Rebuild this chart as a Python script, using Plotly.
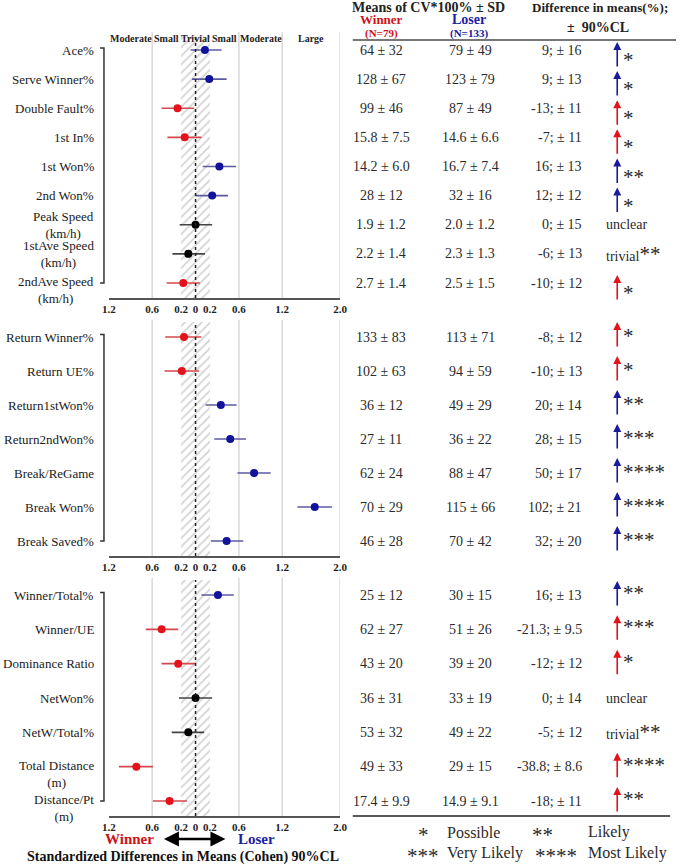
import plotly.graph_objects as go

W, H = 683, 867

# ---------------- data ----------------
SERVE_LABELS = ["Ace%", "Serve Winner%", "Double Fault%", "1st In%", "1st Won%", "2nd Won%",
                "Peak Speed<br>(km/h)", "1stAve Speed<br>(km/h)", "2ndAve Speed<br>(km/h)"]
SERVE_ES = [0.13, 0.19, -0.25, -0.15, 0.33, 0.23, 0.00, -0.10, -0.17]
SERVE_LO = [-0.07, -0.05, -0.47, -0.39, 0.10, 0.00, -0.22, -0.32, -0.40]
SERVE_HI = [0.36, 0.43, -0.02, 0.08, 0.56, 0.45, 0.23, 0.13, 0.06]
SERVE_DIR = ["L", "L", "W", "W", "L", "L", "U", "U", "W"]
SERVE_WIN = ["64 ± 32", "128 ± 67", "99 ± 46", "15.8 ± 7.5", "14.2 ± 6.0", "28 ± 12",
             "1.9 ± 1.2", "2.2 ± 1.4", "2.7 ± 1.4"]
SERVE_LOS = ["79 ± 49", "123 ± 79", "87 ± 49", "14.6 ± 6.6", "16.7 ± 7.4", "32 ± 16",
             "2.0 ± 1.2", "2.3 ± 1.3", "2.5 ± 1.5"]
SERVE_DIFF = ["9; ± 16", "9; ± 13", "-13; ± 11", "-7; ± 11", "16; ± 13", "12; ± 12",
              "0; ± 15", "-6; ± 13", "-10; ± 12"]
SERVE_INF = ["*", "*", "*", "*", "**", "*", "unclear", "trivial**", "*"]

RETURN_LABELS = ["Return Winner%", "Return UE%", "Return1stWon%", "Return2ndWon%",
                 "Break/ReGame", "Break Won%", "Break Saved%"]
RETURN_ES = [-0.16, -0.19, 0.35, 0.48, 0.81, 1.65, 0.43]
RETURN_LO = [-0.42, -0.43, 0.14, 0.26, 0.58, 1.41, 0.21]
RETURN_HI = [0.08, 0.05, 0.57, 0.70, 1.04, 1.89, 0.66]
RETURN_DIR = ["W", "W", "L", "L", "L", "L", "L"]
RETURN_WIN = ["133 ± 83", "102 ± 63", "36 ± 12", "27 ± 11", "62 ± 24", "70 ± 29", "46 ± 28"]
RETURN_LOS = ["113 ± 71", "94 ± 59", "49 ± 29", "36 ± 22", "88 ± 47", "115 ± 66", "70 ± 42"]
RETURN_DIFF = ["-8; ± 12", "-10; ± 13", "20; ± 14", "28; ± 15", "50; ± 17", "102; ± 21", "32; ± 20"]
RETURN_INF = ["*", "*", "**", "***", "****", "****", "***"]

OTHER_LABELS = ["Winner/Total%", "Winner/UE", "Dominance Ratio", "NetWon%", "NetW/Total%",
                "Total Distance<br>(m)", "Distance/Pt<br>(m)"]
OTHER_ES = [0.31, -0.47, -0.24, 0.00, -0.10, -0.82, -0.36]
OTHER_LO = [0.08, -0.69, -0.47, -0.23, -0.33, -1.06, -0.59]
OTHER_HI = [0.53, -0.24, 0.00, 0.23, 0.12, -0.59, -0.12]
OTHER_DIR = ["L", "W", "W", "U", "U", "W", "W"]
OTHER_WIN = ["25 ± 12", "62 ± 27", "43 ± 20", "36 ± 31", "53 ± 32", "49 ± 33", "17.4 ± 9.9"]
OTHER_LOS = ["30 ± 15", "51 ± 26", "39 ± 20", "33 ± 19", "49 ± 22", "29 ± 15", "14.9 ± 9.1"]
OTHER_DIFF = ["16; ± 13", "-21.3; ± 9.5", "-12; ± 12", "0; ± 14", "-5; ± 12", "-38.8; ± 8.6", "-18; ± 11"]
OTHER_INF = ["**", "***", "*", "unclear", "trivial**", "****", "**"]

THRESHOLDS = [-1.2, -0.6, -0.2, 0.2, 0.6, 1.2, 2.0]
ZONE_NAMES = ["Moderate", "Small", "Trivial", "Small", "Moderate", "Large"]
TICK_VALS = [-1.2, -0.6, -0.2, 0, 0.2, 0.6, 1.2, 2.0]
TICK_TEXT = ["1.2", "0.6", "0.2", "0", "0.2", "0.6", "1.2", "2.0"]
GRID_VALS = [-0.6, 0.6, 1.2, 2.0]
TRIVIAL = 0.2

LEGEND_SYMBOLS = ["*", "**", "***", "****"]
LEGEND_TEXT = ["Possible", "Likely", "Very Likely", "Most Likely"]

# ---------------- styling ----------------
SERIF = "Liberation Serif, Times New Roman, serif"
MARK = {"W": "#e3121b", "L": "#12129c", "U": "#000000"}
LINE = {"W": "#d4474c", "L": "#5b5ba0", "U": "#444444"}
ARROW = {"W": "#e3121b", "L": "#1a1a9c"}
TXT = "#2a2a2a"
STAR_SIZE = 21


def px(x):
    return x / W


def py(y):
    return 1 - y / H


panels = [
    dict(labels=SERVE_LABELS, es=SERVE_ES, lo=SERVE_LO, hi=SERVE_HI, d=SERVE_DIR, win=SERVE_WIN,
         los=SERVE_LOS, diff=SERVE_DIFF, inf=SERVE_INF, top=35, bottom=298,
         tip=8, star=-10, drop={"2ndAve Speed<br>(km/h)"}),
    dict(labels=RETURN_LABELS, es=RETURN_ES, lo=RETURN_LO, hi=RETURN_HI, d=RETURN_DIR, win=RETURN_WIN,
         los=RETURN_LOS, diff=RETURN_DIFF, inf=RETURN_INF, top=322, bottom=556,
         tip=15, star=1, drop=set()),
    dict(labels=OTHER_LABELS, es=OTHER_ES, lo=OTHER_LO, hi=OTHER_HI, d=OTHER_DIR, win=OTHER_WIN,
         los=OTHER_LOS, diff=OTHER_DIFF, inf=OTHER_INF, top=580, bottom=816,
         tip=14, star=2, drop={"Total Distance<br>(m)", "Distance/Pt<br>(m)"}),
]

fig = go.Figure()
annotations = []
shapes = []
layout_axes = {}

for i, P in enumerate(panels):
    k = "" if i == 0 else str(i + 1)
    xa, ya = "x" + k, "y" + k
    n = len(P["labels"])
    spacing = (P["bottom"] - P["top"] - 30) / (n - 1)
    pad = 15 / spacing
    yrange = [n - 1 + pad, -pad]

    # hatched trivial zone
    fig.add_trace(go.Bar(
        orientation="h", base=[-TRIVIAL], x=[2 * TRIVIAL], y=[(n - 1) / 2], width=[n - 1 + 2 * pad],
        xaxis=xa, yaxis=ya, hoverinfo="skip", showlegend=False,
        marker=dict(color="white", line=dict(width=0),
                    pattern=dict(shape="/", fgcolor="#a8a8a8", bgcolor="white", size=6, solidity=0.3)),
    ))

    for j in range(n):
        d = P["d"][j]
        fig.add_trace(go.Scatter(
            x=[P["es"][j]], y=[j], xaxis=xa, yaxis=ya, mode="markers", showlegend=False,
            marker=dict(color=MARK[d], size=8),
            error_x=dict(type="data", symmetric=False, array=[P["hi"][j] - P["es"][j]],
                         arrayminus=[P["es"][j] - P["lo"][j]], color=LINE[d], thickness=1.6, width=0),
        ))
        # category label
        lab = P["labels"][j]
        ys = 0
        if "<br>" in lab and lab in P["drop"]:
            ys = -7
        annotations.append(dict(x=px(91), xref="paper", y=j, yref=ya, text=lab, showarrow=False,
                                xanchor="right", yanchor="middle", align="center", yshift=ys,
                                font=dict(family=SERIF, size=13, color="#1a1a1a")))
        # table values
        annotations.append(dict(x=px(382), xref="paper", y=j, yref=ya, text=P["win"][j], showarrow=False,
                                xanchor="center", yanchor="middle", font=dict(family=SERIF, size=14, color=TXT)))
        annotations.append(dict(x=px(473), xref="paper", y=j, yref=ya, text=P["los"][j], showarrow=False,
                                xanchor="center", yanchor="middle", font=dict(family=SERIF, size=14, color=TXT)))
        annotations.append(dict(x=px(589), xref="paper", y=j, yref=ya, text=P["diff"][j], showarrow=False,
                                xanchor="right", yanchor="middle", font=dict(family=SERIF, size=14, color=TXT)))
        inf = P["inf"][j]
        if d in ARROW:
            annotations.append(dict(x=px(623), xref="paper", y=j, yref=ya, text="", showarrow=True,
                                    ax=0, ay=26, yshift=P["tip"], arrowhead=2, arrowsize=1,
                                    arrowwidth=1.6, arrowcolor=ARROW[d], standoff=0, startstandoff=0))
            annotations.append(dict(x=px(627), xref="paper", y=j, yref=ya, text=inf, showarrow=False,
                                    xanchor="left", yanchor="middle", yshift=P["star"],
                                    font=dict(family=SERIF, size=STAR_SIZE, color=TXT)))
        else:
            if inf.startswith("trivial"):
                stars = inf[len("trivial"):]
                txt = "trivial<span style='font-size:%dpx'>%s</span>" % (STAR_SIZE, stars)
            else:
                txt = inf
            annotations.append(dict(x=px(610), xref="paper", y=j, yref=ya, text=txt, showarrow=False,
                                    xanchor="left", yanchor="middle",
                                    font=dict(family=SERIF, size=14, color=TXT)))

    # bracket
    x0b, x1b = px(95), px(99)
    shapes.append(dict(type="path", xref="paper", yref=ya,
                       path=f"M {x0b},{-0.07} L {x1b},{-0.07} L {x1b},{n - 1} L {x0b},{n - 1}",
                       line=dict(color="#333", width=1.5)))
    # gridlines
    for g in GRID_VALS:
        shapes.append(dict(type="line", xref=xa, yref=ya + " domain", x0=g, x1=g, y0=0, y1=1.01,
                           line=dict(color="#d9d9d9", width=1.5), layer="below"))
    # zero dotted line
    shapes.append(dict(type="line", xref=xa, yref=ya + " domain", x0=0, x1=0, y0=0, y1=1,
                       line=dict(color="#222", width=1.5, dash="dot")))

    layout_axes["xaxis" + k] = dict(
        domain=[px(104), px(340)], anchor=ya, range=[THRESHOLDS[0], THRESHOLDS[-1]],
        tickvals=TICK_VALS, ticktext=["<b>" + t + "</b>" for t in TICK_TEXT],
        tickfont=dict(family=SERIF, size=11, color="#222"), showgrid=False, zeroline=False,
        showline=True, linecolor="#555", linewidth=2, ticks="", fixedrange=True)
    layout_axes["yaxis" + k] = dict(
        domain=[py(P["bottom"]), py(P["top"])], anchor=xa, range=yrange, showgrid=False,
        zeroline=False, showticklabels=False, showline=False, ticks="", fixedrange=True)

# zone names on top panel
for a, b, name in zip(THRESHOLDS[:-1], THRESHOLDS[1:], ZONE_NAMES):
    annotations.append(dict(x=(a + b) / 2, xref="x", y=1, yref="y domain", yshift=-3, text="<b>" + name + "</b>",
                            showarrow=False, xanchor="center", yanchor="middle",
                            font=dict(family=SERIF, size=10, color="#222")))

# table header
hdr = dict(showarrow=False, xref="paper", yref="paper", xanchor="center", yanchor="middle")
annotations += [
    dict(hdr, x=px(430), y=py(8), text="<b>Means of CV*100% ± SD</b>",
         font=dict(family=SERIF, size=14, color="#222")),
    dict(hdr, x=px(382), y=py(20), text="<b>Winner</b>", font=dict(family=SERIF, size=13, color="#d01018")),
    dict(hdr, x=px(382), y=py(34), text="<b>(N=79)</b>", font=dict(family=SERIF, size=11, color="#d01018")),
    dict(hdr, x=px(472), y=py(20), text="<b>Loser</b>", font=dict(family=SERIF, size=14, color="#2020a0")),
    dict(hdr, x=px(472), y=py(34), text="<b>(N=133)</b>", font=dict(family=SERIF, size=11, color="#2020a0")),
    dict(hdr, x=px(605), y=py(8), text="<b>Difference in means(%);</b>",
         font=dict(family=SERIF, size=13, color="#222")),
    dict(hdr, x=px(603), y=py(27), text="<b>±  90%CL</b>", font=dict(family=SERIF, size=14, color="#222")),
]
shapes.append(dict(type="line", xref="paper", yref="paper", x0=px(353), x1=px(683), y0=py(40), y1=py(40),
                   line=dict(color="#777", width=2)))
shapes.append(dict(type="line", xref="paper", yref="paper", x0=px(353), x1=px(677), y0=py(816), y1=py(816),
                   line=dict(color="#222", width=1.5)))

# significance legend
leg_pos = [(425, 447, 832), (547, 591, 832), (425, 447, 853), (560, 591, 853)]
for sym, lab, (xs, xl, yy) in zip(LEGEND_SYMBOLS, LEGEND_TEXT, leg_pos):
    annotations.append(dict(hdr, x=px(xs), y=py(yy), yshift=-3, text=sym,
                            font=dict(family=SERIF, size=STAR_SIZE, color=TXT)))
    annotations.append(dict(hdr, x=px(xl), y=py(yy), text=lab, xanchor="left",
                            font=dict(family=SERIF, size=16, color=TXT)))

# footer
annotations += [
    dict(hdr, x=px(125), y=py(839), text="<b>Winner</b>", font=dict(family=SERIF, size=15, color="#d01018")),
    dict(hdr, x=px(255), y=py(839), text="<b>Loser</b>", font=dict(family=SERIF, size=15, color="#2020a0")),
    dict(xref="paper", yref="paper", x=px(223), y=py(839), text="", showarrow=True, ax=-63, ay=0,
         arrowhead=2, startarrowhead=2, arrowside="end+start", arrowsize=1.2, arrowwidth=2.5,
         arrowcolor="#000", standoff=0, startstandoff=0),
    dict(hdr, x=px(180), y=py(857), text="<b>Standardized Differences in Means (Cohen) 90%CL</b>",
         font=dict(family=SERIF, size=14, color="#111")),
]

fig.update_layout(
    width=W, height=H, margin=dict(l=0, r=0, t=0, b=0),
    plot_bgcolor="white", paper_bgcolor="white", showlegend=False, barmode="overlay",
    annotations=annotations, shapes=shapes, **layout_axes,
)

fig.write_html("out.html", config={"displayModeBar": False},
               post_script="document.body.style.margin='0px';document.body.style.overflow='hidden';")
